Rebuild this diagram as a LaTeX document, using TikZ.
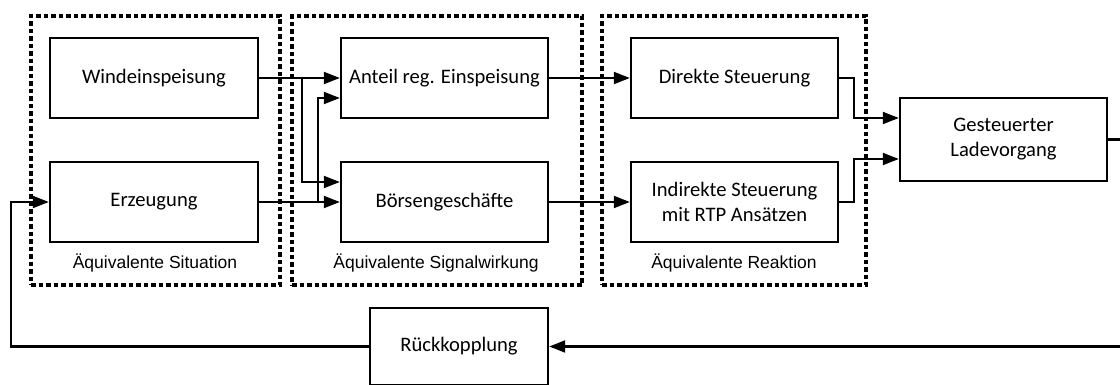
\documentclass[tikz,border=0pt]{standalone}
\usepackage{fontspec}
\setmainfont{Carlito}
\newfontfamily\labelfont{Liberation Sans}
\usetikzlibrary{arrows.meta,calc}
\begin{document}
\begin{tikzpicture}[x=1pt,y=-1pt,
  block/.style={draw,line width=2.4pt,rectangle,minimum width=207pt,minimum height=80pt,
    align=center,inner sep=2pt,font=\fontsize{20.6}{25}\selectfont},
  frame/.style={draw,line width=3.2pt,dash pattern=on 4.5pt off 3pt,rectangle,inner sep=0pt},
  grplabel/.style={font=\labelfont\fontsize{17.5}{20}\selectfont,inner sep=0pt},
  arr/.style={line width=2.1pt,-{Triangle[length=16pt,width=12pt]}}]
\useasboundingbox (0,0) rectangle (1120,385);

% grouping frames
\node[frame,minimum width=249pt,minimum height=269pt] (grp1) at (155.5,150.5) {};
\node[frame,minimum width=290pt,minimum height=269pt] (grp2) at (437,150.5) {};
\node[frame,minimum width=264pt,minimum height=269pt] (grp3) at (734,150.5) {};
\node[grplabel] (lab1) at (155,263) {Äquivalente Situation};
\node[grplabel] (lab2) at (436,263) {Äquivalente Signalwirkung};
\node[grplabel] (lab3) at (734,263) {Äquivalente Reaktion};

% blocks
\node[block,minimum width=208pt] (wind) at (154,78) {Windeinspeisung};
\node[block,minimum width=208pt] (erz) at (154,202) {Erzeugung};
\node[block] (anteil) at (444.5,78) {Anteil reg. Einspeisung};
\node[block] (boerse) at (444.5,202) {Börsengeschäfte};
\node[block] (direkt) at (734.5,78) {Direkte Steuerung};
\node[block] (indirekt) at (734.5,202) {Indirekte Steuerung\\mit RTP Ansätzen};
\node[block,minimum height=83pt] (gest) at (1003.5,139.5) {Gesteuerter\\Ladevorgang};
\node[block,minimum width=178pt,minimum height=77pt] (rueck) at (459,346.5) {Rückkopplung};

% branch points
\coordinate (j1) at ($(wind.east)+(43,0)$);
\coordinate (j2) at ($(erz.east)+(59,0)$);

% connectors
\draw[arr] (wind.east) -- (anteil.west);
\draw[arr] (j1) |- ($(boerse.west)+(0,-20)$);
\draw[arr] (erz.east) -- (boerse.west);
\draw[arr] (j2) |- ($(anteil.west)+(0,20)$);
\draw[arr] (anteil.east) -- (direkt.west);
\draw[arr] (boerse.east) -- (indirekt.west);
\draw[arr] (direkt.east) -- ++(15,0) |- ($(gest.west)+(0,-21.5)$);
\draw[arr] (indirekt.east) -- ++(15,0) |- ($(gest.west)+(0,19.5)$);
\draw[arr] (gest.east) -- ++(12.5,0) |- (rueck.east);
\draw[arr] (rueck.west) -- ++(-358,0) |- (erz.west);
\end{tikzpicture}
\end{document}
